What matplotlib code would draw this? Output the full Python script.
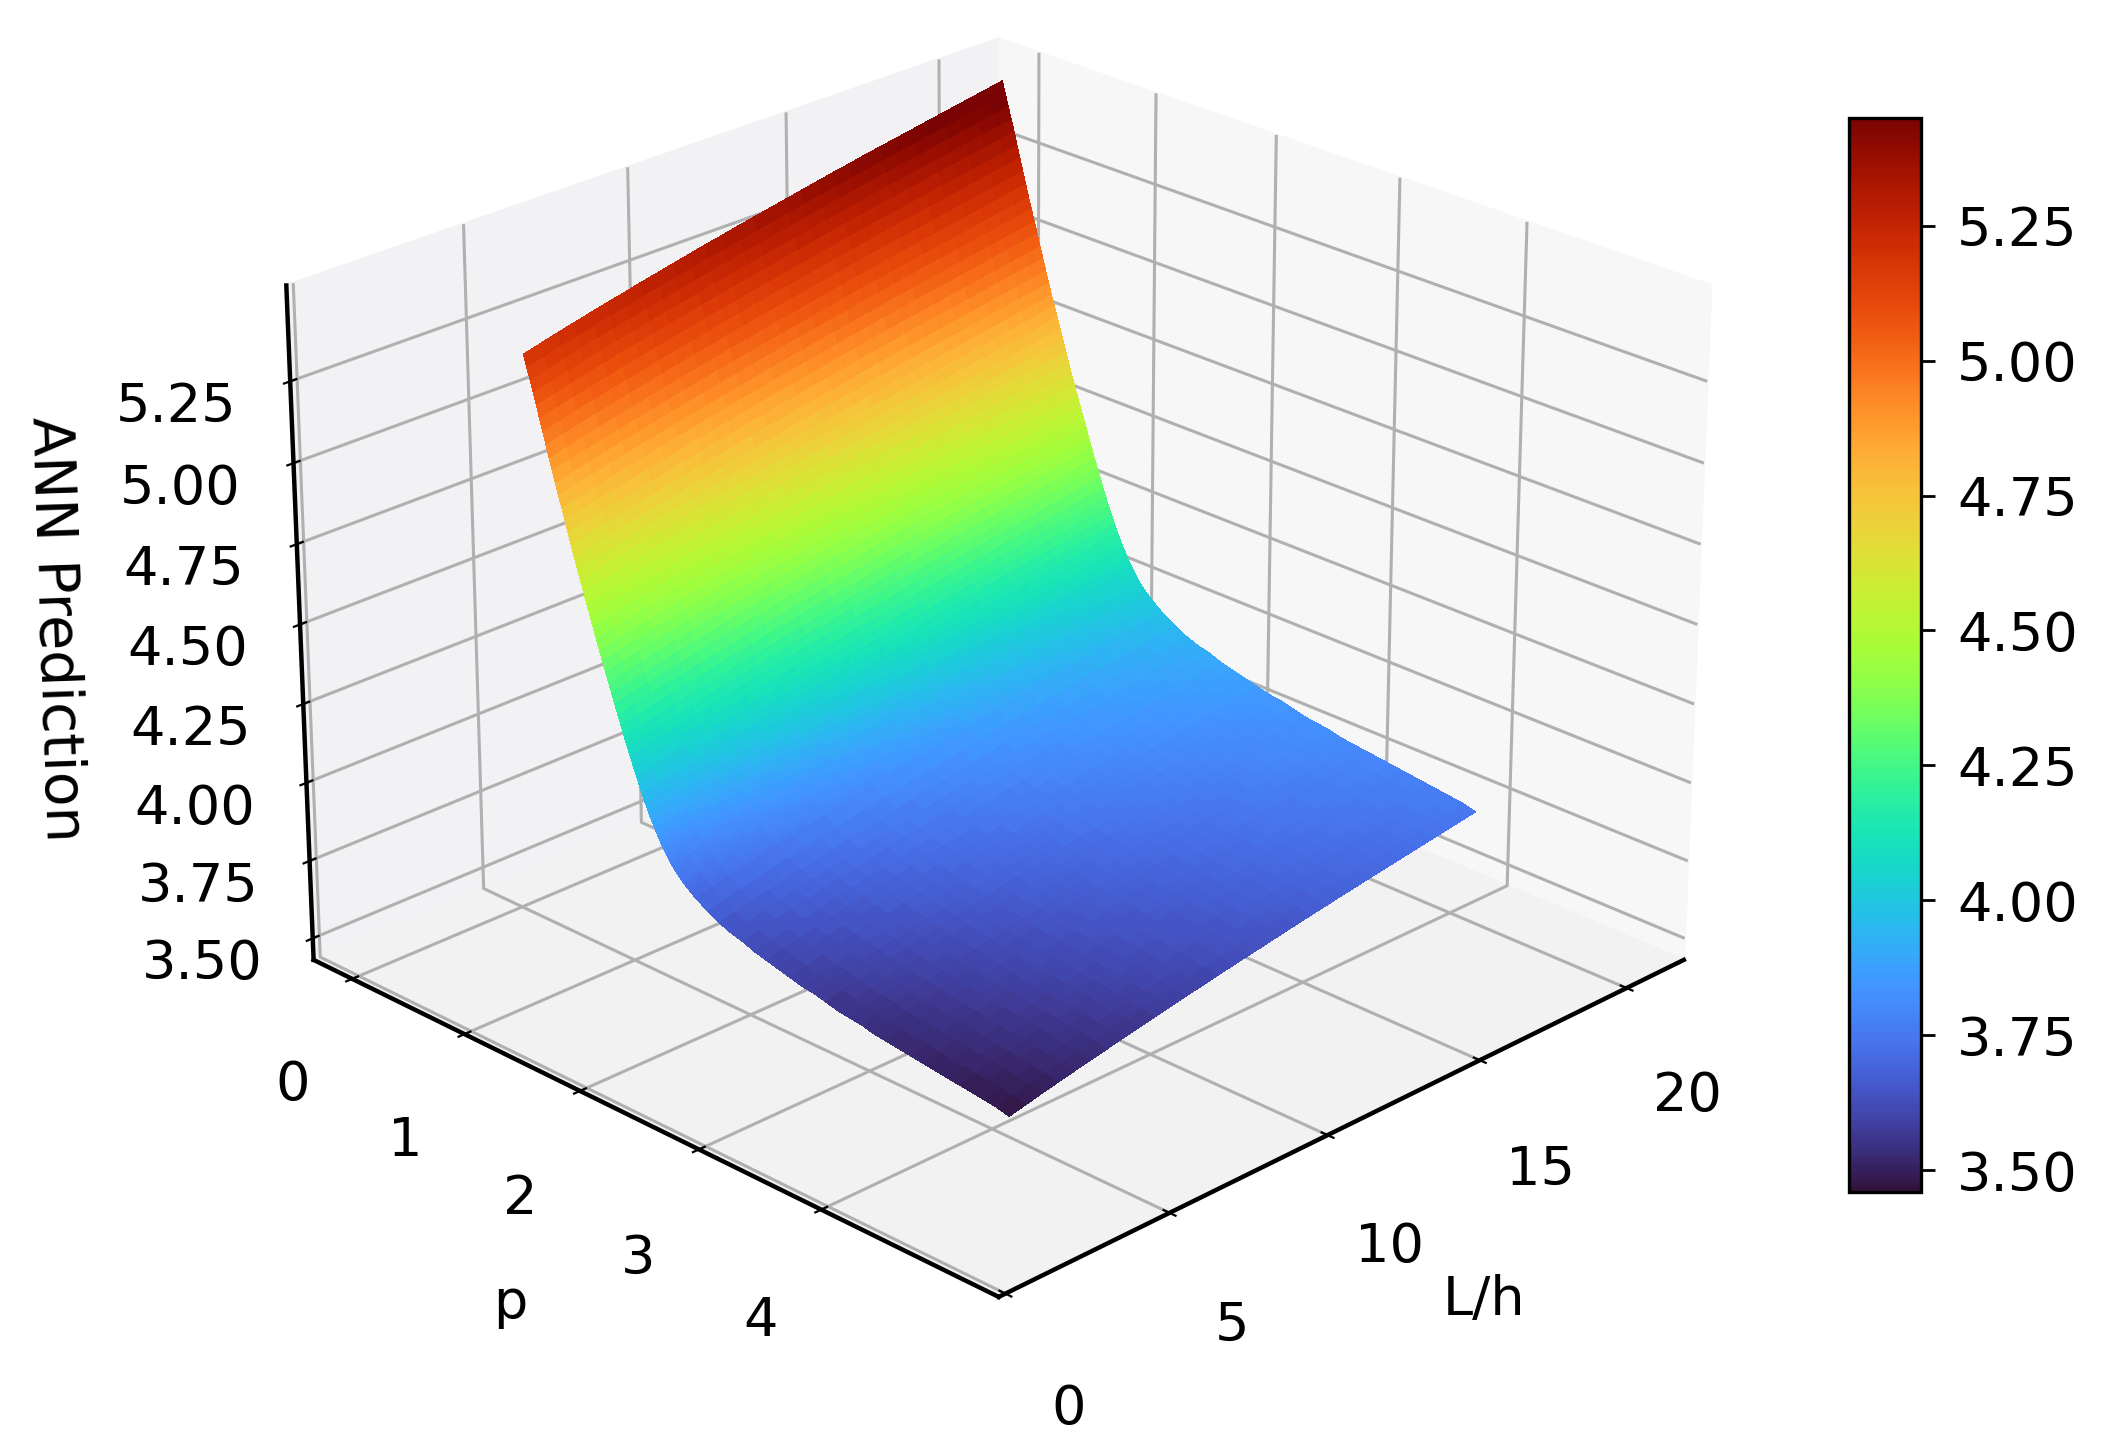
import numpy as np
import matplotlib as mpl
mpl.use('Agg')
import matplotlib.pyplot as plt

mpl.rc('font', size=19.5)
mpl.rc('axes', linewidth=1.2)

# values
p_values = np.concatenate([np.arange(57) * 0.025, 1.5 + np.arange(26) * 0.1]) + 0.07
lh_values = 5.26 + np.arange(31) * 0.508
# prediction along the L/h=5 edge
edge_lh5 = [
    5.190, 5.155, 5.120, 5.085, 5.050, 5.012, 4.975, 4.938,
    4.900, 4.865, 4.830, 4.795, 4.760, 4.725, 4.690, 4.655,
    4.620, 4.587, 4.555, 4.522, 4.490, 4.457, 4.425, 4.392,
    4.360, 4.330, 4.300, 4.270, 4.240, 4.210, 4.180, 4.150,
    4.120, 4.092, 4.065, 4.037, 4.010, 3.984, 3.959, 3.934,
    3.910, 3.888, 3.868, 3.849, 3.830, 3.813, 3.798, 3.783,
    3.770, 3.759, 3.749, 3.739, 3.730, 3.722, 3.714, 3.707,
    3.700, 3.675, 3.655, 3.640, 3.630, 3.615, 3.605, 3.595,
    3.585, 3.575, 3.570, 3.560, 3.550, 3.545, 3.540, 3.530,
    3.525, 3.520, 3.515, 3.510, 3.505, 3.500, 3.495, 3.490,
    3.485, 3.480, 3.470,
]
# rise over that edge going along L/h
rise_lh = [
    0, .012, .024, .035, .046, .057, .067, .078, .088, .098, .108,
    .118, .127, .137, .146, .155, .164, .173, .182, .191, .199,
    .208, .216, .224, .232, .240, .248, .256, .264, .272, .280,
]
# the rise is a little larger at low p
rise_scale = [
    1.14, 1.13, 1.13, 1.12, 1.12, 1.11, 1.11, 1.10,
    1.10, 1.09, 1.09, 1.08, 1.08, 1.07, 1.07, 1.06,
    1.06, 1.05, 1.05, 1.05, 1.04, 1.04, 1.04, 1.03,
    1.03, 1.03, 1.02, 1.02, 1.02, 1.02, 1.01, 1.01,
    1.01, 1.01, 1.01, 1.00, 1.00, 1.00, 1.00, 1.00,
    1.00, 1.00, 1.00, 1.00, 1.00, 1.00, 1.00, 1.00,
    1.00, 1.00, 1.00, 1.00, 1.00, 1.00, 1.00, 1.00,
    1.00, 1.00, 1.00, 1.00, 1.00, 1.00, 1.00, 1.00,
    1.00, 1.00, 1.00, 1.00, 1.00, 1.00, 1.00, 1.00,
    1.00, 1.00, 1.00, 1.00, 1.00, 1.00, 1.00, 1.00,
    1.00, 1.00, 1.00,
]

p_ticks = [0, 1, 2, 3, 4]
lh_ticks = [0, 5, 10, 15, 20]
z_ticks = [3.50, 3.75, 4.00, 4.25, 4.50, 4.75, 5.00, 5.25]

fig = plt.figure(figsize=(10.55, 7.275), dpi=200)
ax = fig.add_axes([-0.021, 0.054, 0.97, 1.0], projection='3d')
X, Y = np.meshgrid(lh_values, p_values)
Z = np.array(edge_lh5)[:, None] + np.outer(rise_scale, rise_lh)

surf = ax.plot_surface(Y, X, Z, cmap='turbo', vmin=3.46, vmax=5.45,
                       rstride=1, cstride=1, linewidth=0, antialiased=False)

ax.view_init(elev=24.5, azim=-45)
ax.set_box_aspect(None, zoom=1.055)
ax.set_xlim(-0.35, 5.4)
ax.set_ylim(-0.2, 22)
ax.set_zlim(3.43, 5.54)
ax.set_xticks(p_ticks)
ax.set_yticks(lh_ticks)
ax.set_zticks(z_ticks)
ax.set_zticklabels(['%.2f' % t for t in z_ticks])
ax.set_xlabel('p', labelpad=28)
ax.set_ylabel('L/h', labelpad=27)
ax.zaxis.set_rotate_label(False)
ax.zaxis.set_ticks_position('lower')
ax.zaxis.set_label_position('lower')
ax.set_zlabel('ANN Prediction', rotation=-88, labelpad=27, fontsize=20.5)
ax.tick_params(axis='x', pad=14.5)
ax.tick_params(axis='y', pad=15)
ax.tick_params(axis='z', pad=14)
ax.xaxis.set_pane_color((0.95, 0.95, 0.96, 1.0))
ax.yaxis.set_pane_color((0.97, 0.97, 0.97, 1.0))
ax.zaxis.set_pane_color((0.95, 0.95, 0.95, 1.0))
for axis in [ax.xaxis, ax.yaxis, ax.zaxis]:
    axis.line.set_linewidth(1.6)
    axis._axinfo['tick']['inward_factor'] = 0.1
    axis._axinfo['tick']['outward_factor'] = 0.1
    axis._axinfo['grid']['linewidth'] = 1.1

cax = fig.add_axes([0.8765, 0.181, 0.034, 0.738])
cb = fig.colorbar(surf, cax=cax, ticks=z_ticks)
cb.ax.set_yticklabels(['%.2f' % t for t in z_ticks])
cb.ax.tick_params(length=5, width=1.0, pad=8)

fig.savefig('out.png', dpi=200)
